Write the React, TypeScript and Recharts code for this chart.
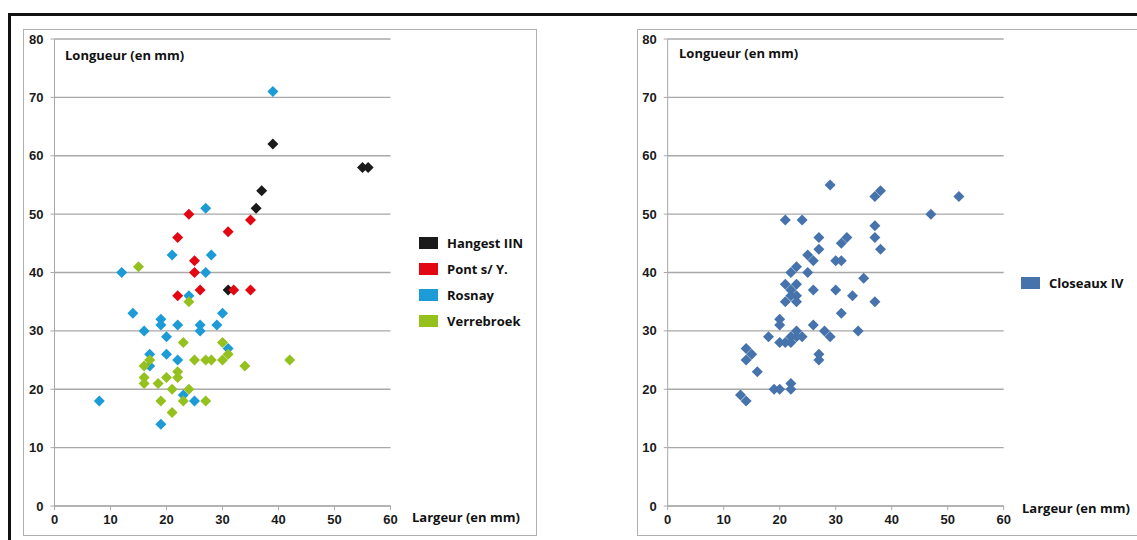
import { CartesianGrid, Legend, Scatter, ScatterChart, XAxis, YAxis } from "recharts";

// [largeur, longueur] in mm
const hangest: [number, number][] = [
  [39, 62], [37, 54], [36, 51], [55, 58], [56, 58], [31, 37],
];
const pont: [number, number][] = [
  [24, 50], [22, 46], [31, 47], [35, 49], [25, 42], [25, 40], [22, 36], [26, 37], [32, 37], [35, 37],
];
const rosnay: [number, number][] = [
  [39, 71], [27, 51], [21, 43], [28, 43], [12, 40], [27, 40], [24, 36], [14, 33], [30, 33],
  [19, 32], [19, 31], [22, 31], [26, 31], [29, 31], [16, 30], [26, 30], [20, 29], [31, 27],
  [17, 26], [20, 26], [22, 25], [17, 24], [23, 19], [25, 18], [8, 18], [19, 14],
];
const verrebroek: [number, number][] = [
  [15, 41], [24, 35], [23, 28], [30, 28], [31, 26], [25, 25], [27, 25], [28, 25], [30, 25],
  [34, 24], [42, 25], [16, 24], [17, 25], [16, 22], [16, 21], [18.5, 21], [20, 22], [21, 20],
  [22, 23], [22, 22], [24, 20], [19, 18], [23, 18], [27, 18], [21, 16],
];
const closeaux: [number, number][] = [
  [13, 19], [14, 18], [14, 27], [14, 25], [15, 26], [16, 23], [18, 29], [19, 20], [20, 20],
  [20, 32], [20, 31], [20, 28], [21, 28], [22, 28], [22, 29], [23, 30], [23, 29], [24, 29],
  [22, 21], [22, 20], [21, 38], [23, 38], [22, 37], [22, 36], [21, 35], [23, 35], [23, 36],
  [22, 40], [23, 41], [25, 40], [26, 37], [30, 37], [33, 36], [26, 31], [27, 26], [27, 25],
  [28, 30], [29, 29], [31, 33], [34, 30], [35, 39], [37, 35], [25, 43], [26, 42], [27, 44],
  [27, 46], [30, 42], [31, 42], [31, 45], [32, 46], [21, 49], [24, 49], [29, 55], [37, 53],
  [38, 54], [52, 53], [47, 50], [37, 48], [37, 46], [38, 44],
];

const xTicks = [0, 10, 20, 30, 40, 50, 60];
const yTicks = [0, 10, 20, 30, 40, 50, 60, 70, 80];

const toPoints = (rows: [number, number][]) => rows.map(([x, y]) => ({ x, y }));

const GRID = "#a8a8a8";
const TITLE_FONT = "'Open Sans', 'Noto Sans', sans-serif";
const tickStyle = { fontFamily: "'Liberation Sans', Arial, sans-serif", fontWeight: 700, fontSize: 13, fill: "#1a1a1a" };

const Diamond = (props: any) => {
  const { cx, cy, fill } = props;
  const r = 5.5;
  return <polygon points={`${cx},${cy - r} ${cx + r},${cy} ${cx},${cy + r} ${cx - r},${cy}`} fill={fill} />;
};

function SwatchLegend({ payload }: any) {
  return (
    <div style={{ fontFamily: TITLE_FONT, fontWeight: 700, fontSize: 13, color: "#111" }}>
      {(payload || []).map((p: any) => (
        <div key={p.value} style={{ display: "flex", alignItems: "center", height: 26 }}>
          <span style={{ display: "inline-block", width: 19, height: 12, background: p.color, marginRight: 9 }} />
          <span>{p.value}</span>
        </div>
      ))}
    </div>
  );
}

const title = (text: string, left: number, top: number) => (
  <div
    style={{
      position: "absolute",
      left,
      top,
      fontFamily: TITLE_FONT,
      fontWeight: 700,
      fontSize: 13,
      lineHeight: "18px",
      color: "#111",
      whiteSpace: "nowrap",
    }}
  >
    {text}
  </div>
);

function Panel({
  width,
  yAxisWidth,
  rightMargin,
  legendLeft,
  legendTop,
  series,
}: {
  width: number;
  yAxisWidth: number;
  rightMargin: number;
  legendLeft: number;
  legendTop: number;
  series: { name: string; color: string; rows: [number, number][] }[];
}) {
  return (
    <ScatterChart width={width} height={540} margin={{ top: 39, right: rightMargin, bottom: 4, left: 0 }}>
      <CartesianGrid vertical={false} stroke={GRID} strokeWidth={1.3} />
      <XAxis
        type="number"
        dataKey="x"
        domain={[0, 60]}
        ticks={xTicks}
        height={30}
        stroke={GRID}
        tickSize={4}
        tickMargin={5}
        tick={tickStyle}
        interval={0}
      />
      <YAxis
        type="number"
        dataKey="y"
        domain={[0, 80]}
        ticks={yTicks}
        width={yAxisWidth}
        stroke={GRID}
        tickSize={4}
        tickMargin={7}
        tick={tickStyle}
        interval={0}
      />
      <Legend
        layout="vertical"
        align="center"
        verticalAlign="middle"
        content={<SwatchLegend />}
        wrapperStyle={{ left: legendLeft, top: legendTop, width: 120 }}
      />
      {series.map((s) => (
        <Scatter
          key={s.name}
          name={s.name}
          data={toPoints(s.rows)}
          fill={s.color}
          shape={<Diamond />}
          isAnimationActive={false}
        />
      ))}
    </ScatterChart>
  );
}

export default function App() {
  return (
    <div
      style={{
        position: "absolute",
        left: 0,
        top: 0,
        width: 1137,
        height: 540,
        overflow: "hidden",
        background: "#fff",
      }}
    >
      <div
        style={{
          position: "absolute",
          left: 8,
          top: 13,
          width: 1300,
          height: 700,
          borderTop: "3px solid #111",
          borderLeft: "3px solid #111",
        }}
      />
      <div style={{ position: "absolute", left: 23, top: 29, width: 512, height: 505, border: "1px solid #b0b0b0" }} />
      <div style={{ position: "absolute", left: 637, top: 29, width: 600, height: 505, border: "1px solid #b0b0b0" }} />

      <div style={{ position: "absolute", left: 0, top: 0 }}>
        <Panel
          width={600}
          yAxisWidth={54.5}
          rightMargin={209.5}
          legendLeft={419}
          legendTop={230}
          series={[
            { name: "Hangest IIN", color: "#1a1a1a", rows: hangest },
            { name: "Pont s/ Y.", color: "#e30613", rows: pont },
            { name: "Rosnay", color: "#1c9bd7", rows: rosnay },
            { name: "Verrebroek", color: "#95c11f", rows: verrebroek },
          ]}
        />
      </div>
      <div style={{ position: "absolute", left: 600, top: 0 }}>
        <Panel
          width={537}
          yAxisWidth={67.7}
          rightMargin={133.3}
          legendLeft={421}
          legendTop={270}
          series={[{ name: "Closeaux IV", color: "#4673ab", rows: closeaux }]}
        />
      </div>

      {title("Longueur (en mm)", 65, 46)}
      {title("Largeur (en mm)", 412, 508)}
      {title("Longueur (en mm)", 679, 44)}
      {title("Largeur (en mm)", 1022, 499)}
    </div>
  );
}
